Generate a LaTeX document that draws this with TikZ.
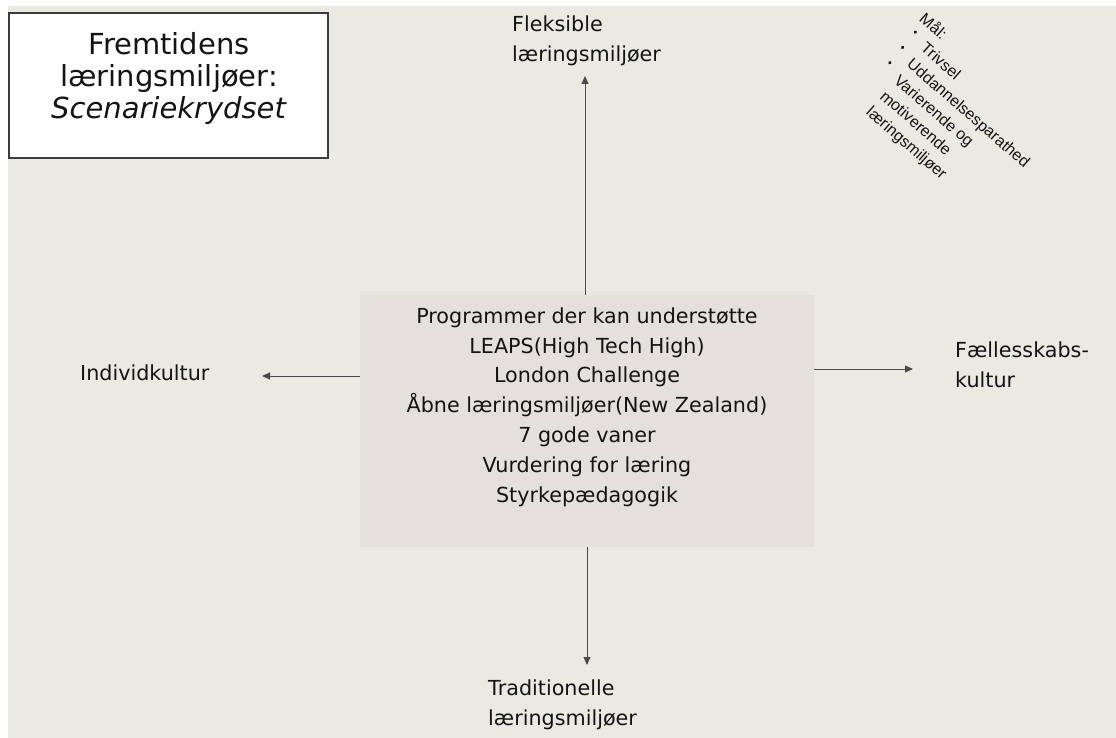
\documentclass[tikz,border=0pt]{standalone}
\usepackage{fontspec}
\setmainfont{DejaVu Sans}
\newfontfamily\arialfont{Liberation Sans}
\usetikzlibrary{arrows.meta}
\definecolor{bgbeige}{HTML}{EAE9E2}
\definecolor{boxgray}{HTML}{E4E0DC}
\definecolor{txt}{HTML}{141414}
\definecolor{arrowgray}{HTML}{4A4A4A}
\definecolor{framegray}{HTML}{3C3C3C}
\begin{document}
\begin{tikzpicture}[x=1pt,y=1pt,
  lbl/.style={font=\fontsize{20.7}{30}\selectfont, text=txt, inner sep=0pt, align=left},
  progtxt/.style={font=\fontsize{20.7}{29.8}\selectfont, text=txt, inner sep=0pt, align=center},
  titletxt/.style={font=\fontsize{29}{32}\selectfont, text=txt, inner sep=0pt, align=center},
  goal/.style={font=\arialfont\fontsize{16}{21}\selectfont, text=txt, inner sep=0pt, align=left, rotate=-41},
  arr/.style={draw=arrowgray, line width=1pt, -{Triangle[length=8pt,width=7pt]}},
  bul/.style={fill=txt}]
\useasboundingbox (0,0) rectangle (1116,-738);
\fill[white] (0,0) rectangle (1116,-738);
\fill[bgbeige] (8,-6) rectangle (1116,-738);
% title
\node[draw=framegray, line width=1.5pt, fill=white, minimum width=319pt, minimum height=145pt, inner sep=0pt] (titlebox) at (168.5,-85.5) {};
\node[titletxt, anchor=base] (title) at (169,-119) {Fremtidens\\læringsmiljøer:\\\textit{Scenariekrydset}};
% central box
\node[fill=boxgray, minimum width=454pt, minimum height=252pt, inner sep=0pt, anchor=north west] (progbox) at (360,-295) {};
\node[progtxt, anchor=base] (prog) at (587,-502) {Programmer der kan understøtte\\LEAPS(High Tech High)\\London Challenge\\Åbne læringsmiljøer(New Zealand)\\7 gode vaner\\Vurdering for læring\\Styrkepædagogik};
% labels
\node[lbl, anchor=base west] (flex) at (512,-62) {Fleksible\\læringsmiljøer};
\node[lbl, anchor=base west] (trad) at (488,-725) {Traditionelle\\læringsmiljøer};
\node[lbl, anchor=base west] (indiv) at (80,-380) {Individkultur};
\node[lbl, anchor=base west] (faell) at (955,-387) {Fællesskabs-\\kultur};
% arrows
\coordinate (tipN) at (585,-76);
\coordinate (tipS) at (587,-665);
\coordinate (tipW) at (262,-376);
\coordinate (tipE) at (913,-369);
\draw[arr] (progbox.north -| tipN) -- (tipN);
\draw[arr] (progbox.south -| tipS) -- (tipS);
\draw[arr] (progbox.west |- tipW) -- (tipW);
\draw[arr] (progbox.east |- tipE) -- (tipE);
% goals (rotated)
\begin{scope}[shift={(926,-12)}, rotate=-41]
\node[goal, anchor=base west] (maal) at (0,-11.7) {Mål:};
\node[goal, anchor=base west] (trivsel) at (20,-32.7) {Trivsel};
\node[goal, anchor=base west] (uddan) at (20,-53.7) {Uddannelsesparathed};
\node[goal, anchor=base west] (varier) at (21,-116.7) {Varierende og\\motiverende\\læringsmiljøer};
\fill[bul] (5.2,-22.2) circle (1.8);
\fill[bul] (5.6,-42.1) circle (1.8);
\fill[bul] (6,-62) circle (1.8);
\end{scope}
\end{tikzpicture}
\end{document}
